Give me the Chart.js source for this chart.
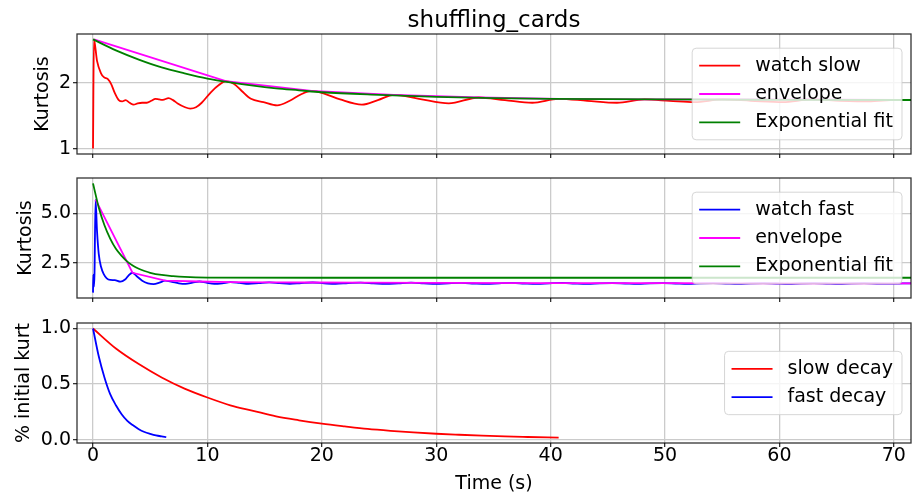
<!DOCTYPE html>
<html>
<head>
<meta charset="utf-8">
<title>shuffling_cards</title>
<script src="https://cdn.jsdelivr.net/npm/chart.js@4.4.1/dist/chart.umd.min.js"></script>
<style>
  html, body { margin: 0; padding: 0; background: #fff; }
  body { width: 913px; height: 493px; position: relative; overflow: hidden; }
  canvas { position: absolute; left: 0; }
  #slowChart { top: 0; }
  #fastChart { top: 170px; }
  #decayChart { top: 310px; }
</style>
</head>
<body>
<canvas id="slowChart" width="913" height="160"></canvas>
<canvas id="fastChart" width="913" height="134"></canvas>
<canvas id="decayChart" width="913" height="183"></canvas>

<script>
/* ===== TICKS ===== */
const timeTicks = [0, 10, 20, 30, 40, 50, 60, 70];
const slowTicks = [1, 2];
const fastTicks = [2.5, 5.0];
const decayTicks = [0, 0.5, 1.0];

/* ===== WATCH SLOW ===== */
const slowTime = [0, 0.08, 0.35, 0.7, 0.95, 1.3, 1.6, 1.9, 2.25, 2.55, 2.85, 3.2, 3.55, 3.9, 4.3, 4.7,
  5.1, 5.45, 5.8, 6.1, 6.6, 7.0, 7.4, 8.0, 8.5, 9.0, 9.5, 10.3, 11.0, 11.6, 12.3, 13.0, 13.8,
  14.9, 16.1, 17.2, 18.2, 19.1, 20.2, 21.6, 23.5, 24.9, 26.3, 28.5, 31.1, 33.7, 36.0, 38.4,
  40.7, 43.2, 45.8, 48.2, 50.4, 52.6, 55.0, 57.5, 60.3, 62.8, 65.3, 67.8, 70.2, 72.0];
const slowKurt = [1.0, 2.667, 2.34, 2.15, 2.09, 2.06, 1.98, 1.85, 1.74, 1.72, 1.74, 1.70, 1.67, 1.69, 1.70, 1.70,
  1.73, 1.76, 1.75, 1.745, 1.77, 1.74, 1.69, 1.635, 1.61, 1.63, 1.70, 1.86, 1.97, 2.03, 1.99, 1.88, 1.76,
  1.71, 1.66, 1.73, 1.83, 1.88, 1.84, 1.75, 1.67, 1.74, 1.82, 1.76, 1.69, 1.78, 1.74, 1.70,
  1.76, 1.73, 1.70, 1.75, 1.73, 1.71, 1.75, 1.73, 1.71, 1.75, 1.73, 1.72, 1.745, 1.74];

const slowEnvTime = [0.08, 11.6, 19.1, 26.3, 33.7, 40.7, 48.2, 55.0, 62.8, 70.2, 72.0];
const slowEnvKurt = [2.667, 2.03, 1.88, 1.82, 1.78, 1.76, 1.75, 1.75, 1.75, 1.745, 1.745];

const slowFitTime = [0, 2, 4, 6, 8, 10, 12, 14, 16, 18, 20, 25, 30, 35, 40, 50, 60, 72.0];
const slowFitKurt = [2.667, 2.50, 2.36, 2.24, 2.15, 2.07, 2.01, 1.96, 1.92, 1.89, 1.86, 1.82, 1.79, 1.77, 1.76, 1.75, 1.745, 1.742];

/* ===== WATCH FAST ===== */
const fastTime = [0, 0.03, 0.08, 0.13, 0.22, 0.35, 0.5, 0.7, 0.95, 1.2, 1.5, 1.9, 2.4, 2.8, 3.1, 3.45,
  3.8, 4.3, 4.8, 5.3, 5.8, 6.3, 6.9, 7.5, 8.1, 8.7, 9.3, 9.9, 10.6, 11.3, 12.0, 12.8, 13.6,
  14.5, 15.4, 16.3, 17.2, 18.2, 19.2, 20.2, 21.2, 22.3, 23.4, 24.5, 25.6, 26.7, 27.8, 28.9,
  30.0, 31.1, 32.2, 33.3, 34.4, 35.5, 36.6, 37.7, 38.8, 39.9, 41.0, 42.1, 43.2, 44.3, 45.4,
  46.5, 47.6, 48.7, 49.8, 50.9, 52.0, 53.1, 54.2, 55.3, 56.4, 57.5, 58.6, 59.7, 60.8, 61.9,
  63.0, 64.1, 65.2, 66.3, 67.4, 68.5, 69.7, 70.8, 72.0];
const fastKurt = [1.0, 1.9, 1.3, 1.95, 5.68, 4.1, 2.95, 2.3, 1.92, 1.72, 1.64, 1.63, 1.55, 1.66, 1.86, 2.0,
  1.84, 1.6, 1.47, 1.43, 1.5, 1.6, 1.54, 1.47, 1.44, 1.5, 1.56, 1.5, 1.44, 1.47, 1.53, 1.49, 1.44,
  1.48, 1.52, 1.48, 1.44, 1.48, 1.51, 1.47, 1.44, 1.48, 1.50, 1.47, 1.44, 1.47, 1.50, 1.47,
  1.44, 1.47, 1.49, 1.46, 1.44, 1.47, 1.49, 1.46, 1.44, 1.47, 1.49, 1.46, 1.44, 1.47, 1.48,
  1.46, 1.44, 1.47, 1.48, 1.46, 1.44, 1.47, 1.48, 1.46, 1.44, 1.47, 1.48, 1.46, 1.44, 1.47,
  1.48, 1.46, 1.44, 1.47, 1.48, 1.46, 1.45, 1.47, 1.46];

const fastEnvTime = [0.22, 3.45, 6.3, 9.3, 12.0, 15.4, 19.2, 23.4, 30, 40, 50, 60, 72.0];
const fastEnvKurt = [5.68, 2.0, 1.6, 1.56, 1.53, 1.52, 1.51, 1.50, 1.49, 1.48, 1.475, 1.47, 1.47];

const fastFitTime = [0, 0.5, 1, 1.5, 2, 2.5, 3, 3.5, 4, 4.5, 5, 6, 7, 8, 10, 20, 72.0];
const fastFitKurt = [6.5, 5.29, 4.39, 3.72, 3.21, 2.85, 2.56, 2.35, 2.2, 2.09, 2.0, 1.89, 1.83, 1.79, 1.76, 1.75, 1.75];

/* ===== DECAY ===== */
const slowDecayTime = [0, 2, 4, 6, 8, 10, 12, 14, 16, 18, 20, 22, 24, 26, 28, 30, 32, 34, 36, 38, 40.7];
const slowDecay = [1.0, 0.82, 0.68, 0.56, 0.46, 0.38, 0.31, 0.26, 0.21, 0.175, 0.145, 0.12, 0.097, 0.08, 0.066, 0.054, 0.045, 0.037, 0.030, 0.025, 0.019];

const fastDecayTime = [0, 0.5, 1, 1.5, 2, 2.5, 3, 3.5, 4, 4.5, 5, 5.5, 6, 6.4];
const fastDecay = [1.0, 0.75, 0.56, 0.41, 0.31, 0.23, 0.17, 0.13, 0.095, 0.07, 0.053, 0.039, 0.03, 0.024];

/* ===== DEFAULTS ===== */
const FONT_SIZE = 19;
Chart.defaults.font.family = "'DejaVu Sans', sans-serif";
Chart.defaults.font.size = FONT_SIZE;
Chart.defaults.color = "#000";

const GRID = "#cbcbcb";
const SPINE = "rgba(0,0,0,0.8)";

function pts(xs, ys) {
  return xs.map((x, i) => ({ x: x, y: ys[i] }));
}

function line(label, color, xs, ys, order, smooth) {
  return {
    label: label,
    data: pts(xs, ys),
    borderColor: color,
    backgroundColor: color,
    borderWidth: 1.8,
    pointRadius: 0,
    fill: false,
    order: order,
    cubicInterpolationMode: smooth ? "monotone" : "default",
    tension: smooth ? 0.4 : 0
  };
}

// keep tick labels from pushing the plot area around
function noPad(s) {
  s.paddingTop = 0;
  s.paddingBottom = 0;
  s.paddingLeft = 0;
  s.paddingRight = 0;
}

/* ===== AXES FRAME ===== */
const frame = {
  id: "frame",
  afterDatasetsDraw(chart) {
    const a = chart.chartArea;
    const ctx = chart.ctx;
    ctx.save();
    ctx.strokeStyle = SPINE;
    ctx.lineWidth = 1.3;
    ctx.strokeRect(a.left, a.top, a.right - a.left, a.bottom - a.top);
    ctx.restore();
  }
};

/* ===== LEGEND BOX (center right, inside axes) ===== */
const boxLegend = {
  id: "boxLegend",
  afterDraw(chart) {
    const ctx = chart.ctx;
    const a = chart.chartArea;
    const sets = chart.data.datasets;
    ctx.save();
    ctx.font = FONT_SIZE + "px 'DejaVu Sans'";
    const textW = Math.max(...sets.map(d => ctx.measureText(d.label).width));
    const w = 7 + 41 + 15 + textW + 9;
    const rowH = 28.3;
    const h = 35 + (sets.length - 1) * rowH;
    const right = a.right - 9;
    const left = right - w;
    const top = (a.top + a.bottom) / 2 - h / 2;

    ctx.beginPath();
    ctx.roundRect(left, top, w, h, 4);
    ctx.fillStyle = "rgba(255,255,255,0.8)";
    ctx.fill();
    ctx.strokeStyle = "rgba(204,204,204,0.8)";
    ctx.lineWidth = 1;
    ctx.stroke();

    sets.forEach((d, i) => {
      const y = top + 17.5 + i * rowH;
      ctx.beginPath();
      ctx.moveTo(left + 7, y);
      ctx.lineTo(left + 48, y);
      ctx.strokeStyle = d.borderColor;
      ctx.lineWidth = 1.8;
      ctx.stroke();
      ctx.fillStyle = "#000";
      ctx.textBaseline = "middle";
      ctx.textAlign = "left";
      ctx.fillText(d.label, left + 63, y);
    });
    ctx.restore();
  }
};

/* ===== PANEL BUILDER ===== */
function makePanel(id, datasets, opts) {
  return new Chart(document.getElementById(id), {
    type: "line",
    data: { datasets: datasets },
    plugins: [frame, boxLegend],
    options: {
      responsive: false,
      animation: false,
      layout: { autoPadding: false, padding: { left: 0, right: 2, top: opts.padTop, bottom: 0 } },
      plugins: {
        legend: { display: false },
        tooltip: { enabled: false },
        title: opts.title
          ? { display: true, text: opts.title, fullSize: false, font: { size: 23, weight: "normal" }, color: "#000", padding: { top: 7, bottom: -0.6 } }
          : { display: false }
      },
      scales: {
        x: {
          type: "linear",
          min: -1.4,
          max: 71.5,
          afterBuildTicks: s => { s.ticks = timeTicks.map(v => ({ value: v })); },
          afterFit: s => { s.height = opts.xHeight; noPad(s); },
          ticks: { display: opts.showX, padding: -2, maxRotation: 0, callback: v => String(v) },
          grid: { color: GRID, lineWidth: 1.3, tickColor: SPINE, tickWidth: 1.3, tickLength: 4 },
          border: { display: false },
          title: opts.showX
            ? { display: true, text: "Time (s)", padding: { top: 0, bottom: -2 } }
            : { display: false }
        },
        y: {
          type: "linear",
          min: opts.yMin,
          max: opts.yMax,
          afterBuildTicks: s => { s.ticks = opts.yTicks.map(v => ({ value: v })); },
          afterFit: s => { s.width = 77; noPad(s); },
          ticks: { padding: 2, callback: opts.yFmt },
          grid: { color: GRID, lineWidth: 1.3, tickColor: SPINE, tickWidth: 1.3, tickLength: 4 },
          border: { display: false },
          title: { display: true, text: opts.yTitle, padding: { top: opts.yTitlePad, bottom: 0 } }
        }
      }
    }
  });
}

/* ===== INIT ===== */
makePanel("slowChart", [
  line("watch slow", "#ff0000", slowTime, slowKurt, 3, true),
  line("envelope", "#ff00ff", slowEnvTime, slowEnvKurt, 2, false),
  line("Exponential fit", "#008000", slowFitTime, slowFitKurt, 1, true)
], {
  title: "shuffling_cards", padTop: 0, xHeight: 6, showX: false,
  yMin: 0.917, yMax: 2.75, yTicks: slowTicks, yFmt: v => String(v),
  yTitle: "Kurtosis", yTitlePad: 32
});

makePanel("fastChart", [
  line("watch fast", "#0000ff", fastTime, fastKurt, 3, true),
  line("envelope", "#ff00ff", fastEnvTime, fastEnvKurt, 2, false),
  line("Exponential fit", "#008000", fastFitTime, fastFitKurt, 1, true)
], {
  padTop: 8, xHeight: 6, showX: false,
  yMin: 0.73, yMax: 6.77, yTicks: fastTicks, yFmt: v => v.toFixed(1),
  yTitle: "Kurtosis", yTitlePad: 14.6
});

makePanel("decayChart", [
  line("slow decay", "#ff0000", slowDecayTime, slowDecay, 2, true),
  line("fast decay", "#0000ff", fastDecayTime, fastDecay, 1, true)
], {
  padTop: 13, xHeight: 50, showX: true,
  yMin: -0.029, yMax: 1.049, yTicks: decayTicks, yFmt: v => v.toFixed(1),
  yTitle: "% initial kurt", yTitlePad: 13
});
</script>
</body>
</html>
